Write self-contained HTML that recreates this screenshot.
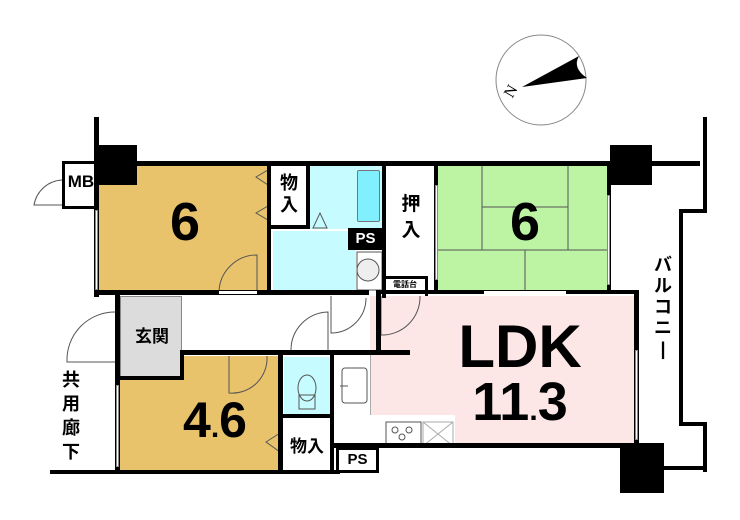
<!DOCTYPE html>
<html><head><meta charset="utf-8"><style>
body{margin:0;background:#fff}
#c{position:relative;width:740px;height:520px;overflow:hidden;background:#fff;font-family:"Liberation Sans","Noto Sans CJK JP",sans-serif}
.a{position:absolute;box-sizing:border-box}
.w{position:absolute;background:#000}
.t{position:absolute;font-weight:bold;color:#000;text-align:center}
</style></head><body><div id="c">
<svg class="a" style="left:0;top:0" width="740" height="520">
<circle cx="541" cy="80" r="45" fill="#fff" stroke="#888" stroke-width="1"/>
<path d="M522,87 L579,56 Q572,68 587,78 Z" fill="#000"/>
<text x="506" y="100" font-size="16" font-family="Liberation Serif" transform="rotate(-60 508 94)">N</text>
</svg>
<div class="a" style="left:99px;top:165px;width:170px;height:128px;background:#e8c36c"></div>
<div class="a" style="left:120px;top:356px;width:160px;height:115px;background:#e8c36c"></div>
<div class="a" style="left:120px;top:296px;width:62px;height:82px;background:#dcdcdc;border:1px solid #888"></div>
<div class="a" style="left:310px;top:165px;width:74px;height:64px;background:#c6fbff"></div>
<div class="a" style="left:273px;top:231px;width:83px;height:60px;background:#c6fbff"></div>
<div class="a" style="left:357px;top:170px;width:23px;height:52px;background:#80f0ff;border:1px solid #777;border-radius:2px"></div>
<div class="a" style="left:284px;top:357px;width:46px;height:58px;background:#c6fbff"></div>
<div class="a" style="left:437px;top:165px;width:173px;height:127px;background:#bdf4a4"></div>
<div class="a" style="left:370px;top:296px;width:267px;height:150px;background:#fde6e6"></div>
<div class="a" style="left:337px;top:355px;width:34px;height:90px;background:#fff;border-right:1px solid #aaa"></div>
<div class="a" style="left:355px;top:415px;width:100px;height:30px;background:#fff"></div>
<svg class="a" style="left:0;top:0" width="740" height="520">
<g stroke="#555" stroke-width="1" fill="none">
<line x1="482" y1="165" x2="482" y2="250"/><line x1="568" y1="165" x2="568" y2="250"/>
<line x1="482" y1="207" x2="568" y2="207"/><line x1="437" y1="250" x2="610" y2="250"/>
<line x1="525" y1="250" x2="525" y2="292"/>
<rect x="342" y="368" width="25" height="35" rx="3"/>
<line x1="340" y1="386" x2="348" y2="386"/>
<rect x="386" y="422" width="35" height="24"/>
<circle cx="395" cy="430" r="3"/><circle cx="409" cy="430" r="3"/><circle cx="402" cy="437" r="3"/>
<rect x="423" y="422" width="30" height="24" stroke="#aaa"/>
<line x1="423" y1="422" x2="453" y2="446" stroke="#aaa"/><line x1="453" y1="422" x2="423" y2="446" stroke="#aaa"/>
<ellipse cx="307" cy="388" rx="9" ry="13"/><rect x="299" y="395" width="16" height="14"/>
<circle cx="368" cy="270" r="11" fill="#eee"/><rect x="357" y="252" width="25" height="38"/>
<path d="M219,292 A38,38 0 0 1 257,255 L257,292"/>
<path d="M291,350 A38,38 0 0 1 328,312 L328,350"/>
<path d="M331,296 L331,333 A35,35 0 0 0 366,298"/>
<path d="M381,296 L381,335 A38,38 0 0 0 420,296"/>
<path d="M229,356 L229,393 A35,35 0 0 0 267,356"/>
<path d="M117,312 A48,48 0 0 0 67,362 L117,362"/>
<path d="M62,180 A30,30 0 0 0 34,205 L62,205"/>
<polygon points="256,177 268,170 268,185"/><polygon points="256,213 268,206 268,220"/>
<polygon points="266,442 280,433 280,452"/>
<polygon points="313,228 320,213 327,228"/>
</g>
</svg>
<div class="w" style="left:94px;top:117px;width:5px;height:180px"></div>
<div class="w" style="left:97px;top:145px;width:40px;height:40px"></div>
<div class="w" style="left:97px;top:161px;width:603px;height:5px"></div>
<div class="w" style="left:62px;top:161px;width:36px;height:3px"></div>
<div class="w" style="left:62px;top:161px;width:3px;height:48px"></div>
<div class="w" style="left:62px;top:206px;width:36px;height:3px"></div>
<div class="w" style="left:94px;top:290px;width:275px;height:5px"></div>
<div class="w" style="left:115px;top:294px;width:5px;height:86px"></div>
<div class="w" style="left:115px;top:376px;width:68px;height:4px"></div>
<div class="w" style="left:180px;top:350px;width:4px;height:30px"></div>
<div class="w" style="left:180px;top:350px;width:230px;height:5px"></div>
<div class="w" style="left:115px;top:378px;width:5px;height:95px"></div>
<div class="w" style="left:50px;top:470px;width:290px;height:4px"></div>
<div class="w" style="left:267px;top:163px;width:4px;height:130px"></div>
<div class="w" style="left:270px;top:225px;width:40px;height:4px"></div>
<div class="w" style="left:306px;top:163px;width:4px;height:66px"></div>
<div class="w" style="left:348px;top:228px;width:35px;height:22px"></div>
<div class="t" style="left:348px;top:229px;width:35px;font-size:15px;color:#fff;line-height:20px">PS</div>
<div class="w" style="left:382px;top:163px;width:4px;height:135px"></div>
<div class="w" style="left:382px;top:276px;width:45px;height:3px"></div>
<div class="w" style="left:425px;top:276px;width:3px;height:20px"></div>
<div class="w" style="left:434px;top:163px;width:4px;height:130px"></div>
<div class="w" style="left:376px;top:290px;width:262px;height:4px"></div>
<div class="w" style="left:278px;top:353px;width:5px;height:120px"></div>
<div class="w" style="left:330px;top:353px;width:4px;height:120px"></div>
<div class="w" style="left:282px;top:414px;width:50px;height:4px"></div>
<div class="w" style="left:334px;top:443px;width:306px;height:5px"></div>
<div class="w" style="left:336px;top:447px;width:43px;height:26px;background:#fff;border:3px solid #000;box-sizing:border-box"></div>
<div class="t" style="left:336px;top:450px;width:43px;font-size:15px;line-height:20px">PS</div>
<div class="w" style="left:376px;top:290px;width:5px;height:65px"></div>
<div class="w" style="left:610px;top:145px;width:42px;height:40px"></div>
<div class="w" style="left:607px;top:163px;width:4px;height:130px"></div>
<div class="w" style="left:634px;top:290px;width:5px;height:160px"></div>
<div class="w" style="left:620px;top:443px;width:44px;height:50px"></div>
<div class="w" style="left:703px;top:117px;width:4px;height:95px"></div>
<div class="w" style="left:679px;top:209px;width:28px;height:4px"></div>
<div class="w" style="left:679px;top:209px;width:4px;height:216px"></div>
<div class="w" style="left:679px;top:422px;width:28px;height:4px"></div>
<div class="w" style="left:703px;top:422px;width:4px;height:50px"></div>
<div class="w" style="left:660px;top:466px;width:46px;height:4px"></div>
<div class="a" style="left:95px;top:210px;width:3px;height:80px;background:#fff;border:1px solid #888"></div>
<div class="a" style="left:116px;top:385px;width:3px;height:82px;background:#fff;border:1px solid #888"></div>
<div class="a" style="left:635px;top:350px;width:3px;height:90px;background:#fff;border:1px solid #888"></div>
<div class="a" style="left:607px;top:195px;width:3px;height:90px;background:#fff;border:1px solid #888"></div>
<div class="a" style="left:435px;top:185px;width:3px;height:95px;background:#fff;border:1px solid #888"></div>
<div class="a" style="left:484px;top:291px;width:82px;height:3px;background:#fff"></div>
<div class="a" style="left:219px;top:291px;width:38px;height:3px;background:#fff"></div>
<div class="t" style="left:64px;top:172px;width:34px;font-size:17px">MB</div>
<div class="t" style="left:140px;top:192px;width:90px;font-size:54px;line-height:60px">6</div>
<div class="t" style="left:272px;top:172px;width:34px;font-size:18px;line-height:22px">物<br>入</div>
<div class="t" style="left:389px;top:192px;width:44px;font-size:19px;line-height:26px">押<br>入</div>
<div class="t" style="left:485px;top:192px;width:80px;font-size:54px;line-height:60px">6</div>
<div class="t" style="left:384px;top:279px;width:42px;font-size:8px">電話台</div>
<div class="t" style="left:122px;top:322px;width:60px;font-size:17px">玄関</div>
<div class="t" style="left:160px;top:390px;width:110px;font-size:50px;line-height:60px">4<span style="font-size:30px">.</span>6</div>
<div class="t" style="left:284px;top:432px;width:46px;font-size:17px">物入</div>
<div class="t" style="left:60px;top:368px;width:22px;font-size:18px;line-height:24px">共<br>用<br>廊<br>下</div>
<div class="t" style="left:440px;top:315px;width:160px;font-size:60px;line-height:64px">LDK</div>
<div class="t" style="left:440px;top:372px;width:160px;font-size:54px;line-height:60px">11<span style="font-size:30px">.</span>3</div>
<div class="t" style="left:652px;top:255px;width:22px;font-size:18px;line-height:21px">バ<br>ル<br>コ<br>ニ<br>|</div>
</div></body></html>
